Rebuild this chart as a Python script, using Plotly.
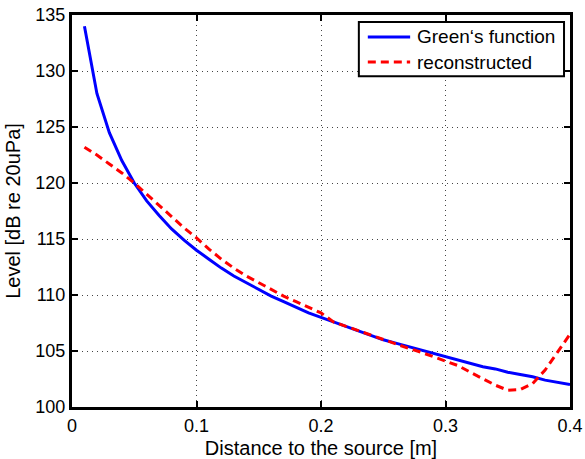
import plotly.graph_objects as go

# Distance from the source [m]
distance = [0.01, 0.02, 0.03, 0.04, 0.05, 0.06, 0.07, 0.08, 0.09, 0.10,
            0.11, 0.12, 0.13, 0.14, 0.15, 0.16, 0.17, 0.18, 0.19, 0.20,
            0.21, 0.22, 0.23, 0.24, 0.25, 0.26, 0.27, 0.28, 0.29, 0.30,
            0.31, 0.32, 0.33, 0.34, 0.35, 0.36, 0.37, 0.38, 0.39, 0.40]

# Level of the free-field Green's function [dB re 20uPa]
green_level = [134.0, 128.0, 124.5, 122.0, 120.0, 118.4, 117.1, 115.9, 114.9, 114.0,
               113.2, 112.4, 111.7, 111.1, 110.5, 109.9, 109.4, 108.9, 108.4, 108.0,
               107.6, 107.2, 106.8, 106.4, 106.0, 105.7, 105.4, 105.1, 104.8, 104.5,
               104.2, 103.9, 103.6, 103.4, 103.1, 102.9, 102.7, 102.4, 102.2, 102.0]

# Level of the reconstructed field [dB re 20uPa]
recon_level = [123.2, 122.5, 121.7, 120.9, 120.0, 119.0, 118.0, 117.0, 116.0, 115.1,
               114.1, 113.2, 112.4, 111.7, 111.1, 110.5, 109.9, 109.4, 108.9, 108.4,
               107.6, 107.2, 106.8, 106.4, 106.0, 105.6, 105.25, 104.9, 104.5, 104.15,
               103.7, 103.1, 102.5, 101.95, 101.5, 101.55, 102.1, 103.3, 104.9, 106.5]

x_ticks = [0, 0.1, 0.2, 0.3, 0.4]
y_ticks = [100, 105, 110, 115, 120, 125, 130, 135]

series_names = ["Green‘s function", "reconstructed"]
series_colors = ["#0000ff", "#ff0000"]
series_dashes = ["solid", "8px,5px"]

FONT = "Liberation Sans, Arial, Helvetica, sans-serif"

fig = go.Figure()
for name, ys, color, dash in zip(series_names, [green_level, recon_level],
                                 series_colors, series_dashes):
    fig.add_trace(go.Scatter(
        x=distance, y=ys, mode="lines", name=name, showlegend=False,
        line=dict(color=color, width=3, dash=dash),
    ))

axis_common = dict(
    showline=True, linecolor="black", linewidth=3, mirror="ticks",
    ticks="inside", ticklen=6, tickwidth=2, tickcolor="black",
    showgrid=True, gridcolor="#444444", gridwidth=1, griddash="1px,4px",
    zeroline=False, automargin=False,
    tickfont=dict(family=FONT, size=18, color="black"),
)

# Boxed legend in the upper-right corner (paper coordinates)
box_x0, box_x1, box_y0, box_y1 = 0.576, 0.988, 0.844, 0.982
sample_x0, sample_x1, label_x = 0.594, 0.679, 0.689
row_y = [0.944, 0.880]

shapes = [dict(type="rect", xref="paper", yref="paper",
               x0=box_x0, x1=box_x1, y0=box_y0, y1=box_y1,
               line=dict(color="black", width=2), fillcolor="white",
               layer="above")]
annotations = []
for name, color, dash, yy in zip(series_names, series_colors, series_dashes, row_y):
    shapes.append(dict(type="line", xref="paper", yref="paper",
                       x0=sample_x0, x1=sample_x1, y0=yy, y1=yy,
                       line=dict(color=color, width=3, dash=dash),
                       layer="above"))
    annotations.append(dict(xref="paper", yref="paper", x=label_x, y=yy,
                            text=name, showarrow=False,
                            xanchor="left", yanchor="middle",
                            font=dict(family=FONT, size=19, color="black")))

fig.update_layout(
    width=585, height=459,
    margin=dict(l=72, r=15, t=15, b=52),
    paper_bgcolor="white", plot_bgcolor="white",
    font=dict(family=FONT, size=18, color="black"),
    xaxis=dict(
        range=[0, 0.4], tickvals=x_ticks,
        ticktext=[f"{v:g}" for v in x_ticks],
        title=dict(text="Distance to the source [m]",
                   font=dict(family=FONT, size=20), standoff=12),
        **axis_common,
    ),
    yaxis=dict(
        range=[100, 135], tickvals=y_ticks,
        title=dict(text="Level [dB re 20uPa]",
                   font=dict(family=FONT, size=20), standoff=10),
        **axis_common,
    ),
    shapes=shapes,
    annotations=annotations,
    showlegend=False,
)

fig.write_html("out.html")
